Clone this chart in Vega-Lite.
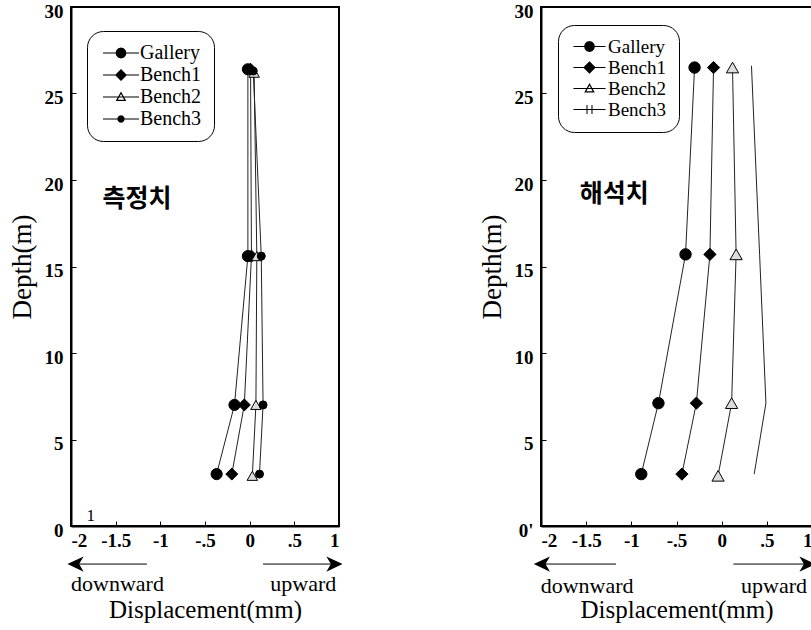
{
  "$schema": "https://vega.github.io/schema/vega-lite/v6.json",
  "background": "white",
  "padding": {"left": 7, "top": 1, "right": 0, "bottom": 0},
  "spacing": 133,
  "config": {
    "view": {"stroke": "black", "strokeWidth": 2},
    "font": "Liberation Serif",
    "axis": {
      "grid": false,
      "domainColor": "black",
      "domainWidth": 2,
      "tickColor": "black",
      "tickSize": -5,
      "labelFont": "Liberation Serif",
      "labelFontWeight": "bold",
      "labelFontSize": 19,
      "labelColor": "black",
      "titleFont": "Liberation Serif",
      "titleFontWeight": "normal",
      "titleColor": "black"
    },
    "axisX": {
      "labelPadding": 10,
      "titleFontSize": 25,
      "titlePadding": 47
    },
    "axisY": {
      "labelOffset": 4,
      "labelPadding": 13,
      "titleFontSize": 27,
      "titlePadding": 8
    },
    "legend": {
      "title": null,
      "orient": "none",
      "padding": 12,
      "cornerRadius": 16,
      "strokeColor": "black",
      "fillColor": "white",
      "labelFont": "Liberation Serif",
      "labelColor": "black"
    }
  },
  "resolve": {"scale": {"shape": "independent"}, "legend": {"shape": "independent"}},
  "datasets": {
    "d": [
      {"panel": "measured", "series": "Gallery", "depth": 26.4, "disp": -0.02},
      {"panel": "measured", "series": "Gallery", "depth": 15.6, "disp": -0.02},
      {"panel": "measured", "series": "Gallery", "depth": 7.0, "disp": -0.17},
      {"panel": "measured", "series": "Gallery", "depth": 3.0, "disp": -0.37},
      {"panel": "measured", "series": "Bench1", "depth": 26.4, "disp": 0.01},
      {"panel": "measured", "series": "Bench1", "depth": 15.6, "disp": 0.02},
      {"panel": "measured", "series": "Bench1", "depth": 7.0, "disp": -0.06},
      {"panel": "measured", "series": "Bench1", "depth": 3.0, "disp": -0.2},
      {"panel": "measured", "series": "Bench2", "depth": 26.2, "disp": 0.05},
      {"panel": "measured", "series": "Bench2", "depth": 15.6, "disp": 0.08},
      {"panel": "measured", "series": "Bench2", "depth": 7.0, "disp": 0.07},
      {"panel": "measured", "series": "Bench2", "depth": 2.9, "disp": 0.03},
      {"panel": "measured", "series": "Bench3", "depth": 26.3, "disp": 0.04},
      {"panel": "measured", "series": "Bench3", "depth": 15.6, "disp": 0.13},
      {"panel": "measured", "series": "Bench3", "depth": 7.0, "disp": 0.15},
      {"panel": "measured", "series": "Bench3", "depth": 3.0, "disp": 0.11},
      {"panel": "analysis", "series": "Gallery", "depth": 26.5, "disp": -0.3},
      {"panel": "analysis", "series": "Gallery", "depth": 15.7, "disp": -0.4},
      {"panel": "analysis", "series": "Gallery", "depth": 7.1, "disp": -0.7},
      {"panel": "analysis", "series": "Gallery", "depth": 3.0, "disp": -0.89},
      {"panel": "analysis", "series": "Bench1", "depth": 26.5, "disp": -0.09},
      {"panel": "analysis", "series": "Bench1", "depth": 15.7, "disp": -0.13},
      {"panel": "analysis", "series": "Bench1", "depth": 7.1, "disp": -0.28},
      {"panel": "analysis", "series": "Bench1", "depth": 3.0, "disp": -0.44},
      {"panel": "analysis", "series": "Bench2", "depth": 26.5, "disp": 0.12},
      {"panel": "analysis", "series": "Bench2", "depth": 15.7, "disp": 0.16},
      {"panel": "analysis", "series": "Bench2", "depth": 7.1, "disp": 0.11},
      {"panel": "analysis", "series": "Bench2", "depth": 2.9, "disp": -0.04},
      {"panel": "analysis", "series": "Bench3", "depth": 26.6, "disp": 0.33},
      {"panel": "analysis", "series": "Bench3", "depth": 15.7, "disp": 0.42},
      {"panel": "analysis", "series": "Bench3", "depth": 7.1, "disp": 0.49},
      {"panel": "analysis", "series": "Bench3", "depth": 3.0, "disp": 0.36}
    ]
  },
  "hconcat": [
    {
      "width": 268,
      "height": 519,
      "layer": [
        {
          "data": {"name": "d"},
          "transform": [{"filter": "datum.panel === 'measured'"}],
          "mark": {"type": "line", "color": "#222", "strokeWidth": 1},
          "encoding": {
            "x": {"field": "disp", "type": "quantitative", "scale": {"domain": [-2, 1], "nice": false, "zero": false},
                  "axis": {"title": "Displacement(mm)", "values": [-2, -1.5, -1, -0.5, 0, 0.5, 1],
                           "labelExpr": "datum.value == 0 ? '0' : (datum.value < 0 ? '-' : '') + replace(toString(abs(datum.value)), '0.', '.')"}},
            "y": {"field": "depth", "type": "quantitative", "scale": {"domain": [0, 30], "nice": false, "zero": false},
                  "axis": {"title": "Depth(m)", "values": [0, 5, 10, 15, 20, 25, 30]}},
            "detail": {"field": "series"},
            "order": {"field": "depth"}
          }
        },
        {
          "data": {"name": "d"},
          "transform": [{"filter": "datum.panel === 'measured'"}],
          "mark": {"type": "point", "filled": true, "stroke": "black", "strokeWidth": 1, "opacity": 1},
          "encoding": {
            "x": {"field": "disp", "type": "quantitative"},
            "y": {"field": "depth", "type": "quantitative"},
            "shape": {"condition": [{"test": "datum.series === 'Bench1'", "value": "diamond"}, {"test": "datum.series === 'Bench2'", "value": "triangle-up"}], "value": "circle"},
            "size": {"condition": [{"test": "datum.series === 'Bench1'", "value": 144}, {"test": "datum.series === 'Bench2'", "value": 110}, {"test": "datum.series === 'Bench3'", "value": 64}], "value": 125},
            "fill": {"condition": {"test": "datum.series === 'Bench2'", "value": "#ddd"}, "value": "black"}
          }
        },
        {
          "data": {"name": "d"},
          "transform": [{"filter": "datum.panel === 'none'"}],
          "mark": {"type": "point", "filled": true, "color": "black", "opacity": 1},
          "encoding": {
            "x": {"field": "disp", "type": "quantitative"},
            "y": {"field": "depth", "type": "quantitative"},
            "shape": {
              "field": "series", "type": "nominal",
              "scale": {
                "domain": ["Gallery", "Bench1", "Bench2", "Bench3"],
                "range": [
                  "M-3,-0.09L3,-0.09L3,0.09L-3,0.09ZM0.9,0L0.78,0.45L0.45,0.78L0,0.9L-0.45,0.78L-0.78,0.45L-0.9,0L-0.78,-0.45L-0.45,-0.78L0,-0.9L0.45,-0.78L0.78,-0.45Z",
                  "M-3,-0.09L3,-0.09L3,0.09L-3,0.09ZM0,-1L1,0L0,1L-1,0Z",
                  "M-3,-0.09L3,-0.09L3,0.09L-3,0.09ZM0,-0.9L0.88,0.65L-0.88,0.65ZM0,-0.5L-0.52,0.45L0.52,0.45Z",
                  "M-3,-0.09L3,-0.09L3,0.09L-3,0.09ZM0.62,0L0.54,0.31L0.31,0.54L0,0.62L-0.31,0.54L-0.54,0.31L-0.62,0L-0.54,-0.31L-0.31,-0.54L0,-0.62L0.31,-0.54L0.54,-0.31Z"
                ]
              },
              "legend": {
                "legendX": 16, "legendY": 24,
                "labelFontSize": 20,
                "symbolSize": 144, "symbolOffset": 12, "labelOffset": 9, "rowPadding": 2,
                "symbolStrokeWidth": 0
              }
            }
          }
        },
        {
          "data": {"values": [{"label": "측정치"}]},
          "mark": {"type": "text", "font": "Noto Sans CJK KR", "fontWeight": "bold", "fontSize": 25, "color": "black"},
          "encoding": {"x": {"datum": -1.26}, "y": {"datum": 18.9}, "text": {"field": "label"}}
        },
        {
          "data": {"values": [{"label": "1"}]},
          "mark": {"type": "text", "fontSize": 17, "color": "black"},
          "encoding": {"x": {"datum": -1.78}, "y": {"datum": 0.6}, "text": {"field": "label"}}
        },
        {
          "data": {"values": [{"label": "downward"}]},
          "mark": {"type": "text", "clip": false, "fontSize": 22, "color": "black"},
          "encoding": {"x": {"datum": -1.48}, "y": {"datum": -3.35}, "text": {"field": "label"}}
        },
        {
          "data": {"values": [{"label": "upward"}]},
          "mark": {"type": "text", "clip": false, "fontSize": 22, "color": "black"},
          "encoding": {"x": {"datum": 0.6}, "y": {"datum": -3.35}, "text": {"field": "label"}}
        },
        {
          "data": {"values": [{}]},
          "mark": {"type": "rule", "clip": false, "color": "black", "strokeWidth": 1},
          "encoding": {"x": {"datum": -1.15}, "x2": {"datum": -2.0}, "y": {"datum": -2.2}}
        },
        {
          "data": {"values": [{}]},
          "mark": {"type": "rule", "clip": false, "color": "black", "strokeWidth": 1},
          "encoding": {"x": {"datum": 0.15}, "x2": {"datum": 1.0}, "y": {"datum": -2.2}}
        },
        {
          "data": {"values": [{}]},
          "mark": {"type": "point", "clip": false, "filled": true, "color": "black", "opacity": 1, "size": 324, "shape": "M0,0L1.8,-0.85L1.3,0L1.8,0.85Z"},
          "encoding": {"x": {"datum": -2.04}, "y": {"datum": -2.2}}
        },
        {
          "data": {"values": [{}]},
          "mark": {"type": "point", "clip": false, "filled": true, "color": "black", "opacity": 1, "size": 324, "shape": "M0,0L-1.8,-0.85L-1.3,0L-1.8,0.85Z"},
          "encoding": {"x": {"datum": 1.04}, "y": {"datum": -2.2}}
        }
      ]
    },
    {
      "width": 271,
      "height": 519,
      "layer": [
        {
          "data": {"name": "d"},
          "transform": [{"filter": "datum.panel === 'analysis'"}],
          "mark": {"type": "line", "color": "#222", "strokeWidth": 1},
          "encoding": {
            "x": {"field": "disp", "type": "quantitative", "scale": {"domain": [-2, 1], "nice": false, "zero": false},
                  "axis": {"title": "Displacement(mm)", "values": [-2, -1.5, -1, -0.5, 0, 0.5, 1],
                           "labelExpr": "datum.value == 0 ? '0' : (datum.value < 0 ? '-' : '') + replace(toString(abs(datum.value)), '0.', '.')"}},
            "y": {"field": "depth", "type": "quantitative", "scale": {"domain": [0, 30], "nice": false, "zero": false},
                  "axis": {"title": "Depth(m)", "values": [0, 5, 10, 15, 20, 25, 30], "labelExpr": "datum.value === 0 ? \"0'\" : datum.label"}},
            "detail": {"field": "series"},
            "order": {"field": "depth"}
          }
        },
        {
          "data": {"name": "d"},
          "transform": [{"filter": "datum.panel === 'analysis' && datum.series !== 'Bench3'"}],
          "mark": {"type": "point", "filled": true, "stroke": "black", "strokeWidth": 1, "opacity": 1},
          "encoding": {
            "x": {"field": "disp", "type": "quantitative"},
            "y": {"field": "depth", "type": "quantitative"},
            "shape": {"condition": [{"test": "datum.series === 'Bench1'", "value": "diamond"}, {"test": "datum.series === 'Bench2'", "value": "triangle-up"}], "value": "circle"},
            "size": {"condition": [{"test": "datum.series === 'Bench1'", "value": 150}, {"test": "datum.series === 'Bench2'", "value": 150}], "value": 130},
            "fill": {"condition": {"test": "datum.series === 'Bench2'", "value": "#ddd"}, "value": "black"}
          }
        },
        {
          "data": {"name": "d"},
          "transform": [{"filter": "datum.panel === 'none'"}],
          "mark": {"type": "point", "filled": true, "color": "black", "opacity": 1},
          "encoding": {
            "x": {"field": "disp", "type": "quantitative"},
            "y": {"field": "depth", "type": "quantitative"},
            "shape": {
              "field": "series", "type": "nominal",
              "scale": {
                "domain": ["Gallery", "Bench1", "Bench2", "Bench3"],
                "range": [
                  "M-2.67,-0.09L2.67,-0.09L2.67,0.09L-2.67,0.09ZM0.9,0L0.78,0.45L0.45,0.78L0,0.9L-0.45,0.78L-0.78,0.45L-0.9,0L-0.78,-0.45L-0.45,-0.78L0,-0.9L0.45,-0.78L0.78,-0.45Z",
                  "M-2.67,-0.09L2.67,-0.09L2.67,0.09L-2.67,0.09ZM0,-1.05L1.05,0L0,1.05L-1.05,0Z",
                  "M-2.67,-0.09L2.67,-0.09L2.67,0.09L-2.67,0.09ZM0,-0.9L0.88,0.65L-0.88,0.65ZM0,-0.5L-0.52,0.45L0.52,0.45Z",
                  "M-2.67,-0.09L2.67,-0.09L2.67,0.09L-2.67,0.09ZM-0.5,-0.75L-0.33,-0.75L-0.33,0.75L-0.5,0.75ZM0.33,-0.75L0.5,-0.75L0.5,0.75L0.33,0.75Z"
                ]
              },
              "legend": {
                "legendX": 17, "legendY": 18,
                "labelFontSize": 19,
                "symbolSize": 144, "symbolOffset": 10, "labelOffset": 9, "rowPadding": 1,
                "symbolStrokeWidth": 0
              }
            }
          }
        },
        {
          "data": {"values": [{"label": "해석치"}]},
          "mark": {"type": "text", "font": "Noto Sans CJK KR", "fontWeight": "bold", "fontSize": 25, "color": "black"},
          "encoding": {"x": {"datum": -1.19}, "y": {"datum": 19.2}, "text": {"field": "label"}}
        },
        {
          "data": {"values": [{"label": "downward"}]},
          "mark": {"type": "text", "clip": false, "fontSize": 22, "color": "black"},
          "encoding": {"x": {"datum": -1.49}, "y": {"datum": -3.45}, "text": {"field": "label"}}
        },
        {
          "data": {"values": [{"label": "upward"}]},
          "mark": {"type": "text", "clip": false, "fontSize": 22, "color": "black"},
          "encoding": {"x": {"datum": 0.58}, "y": {"datum": -3.45}, "text": {"field": "label"}}
        },
        {
          "data": {"values": [{}]},
          "mark": {"type": "rule", "clip": false, "color": "black", "strokeWidth": 1},
          "encoding": {"x": {"datum": -1.17}, "x2": {"datum": -2.04}, "y": {"datum": -2.2}}
        },
        {
          "data": {"values": [{}]},
          "mark": {"type": "rule", "clip": false, "color": "black", "strokeWidth": 1},
          "encoding": {"x": {"datum": 0.13}, "x2": {"datum": 1.0}, "y": {"datum": -2.2}}
        },
        {
          "data": {"values": [{}]},
          "mark": {"type": "point", "clip": false, "filled": true, "color": "black", "opacity": 1, "size": 324, "shape": "M0,0L1.8,-0.85L1.3,0L1.8,0.85Z"},
          "encoding": {"x": {"datum": -2.08}, "y": {"datum": -2.2}}
        },
        {
          "data": {"values": [{}]},
          "mark": {"type": "point", "clip": false, "filled": true, "color": "black", "opacity": 1, "size": 324, "shape": "M0,0L-1.8,-0.85L-1.3,0L-1.8,0.85Z"},
          "encoding": {"x": {"datum": 1.04}, "y": {"datum": -2.2}}
        }
      ]
    }
  ]
}
